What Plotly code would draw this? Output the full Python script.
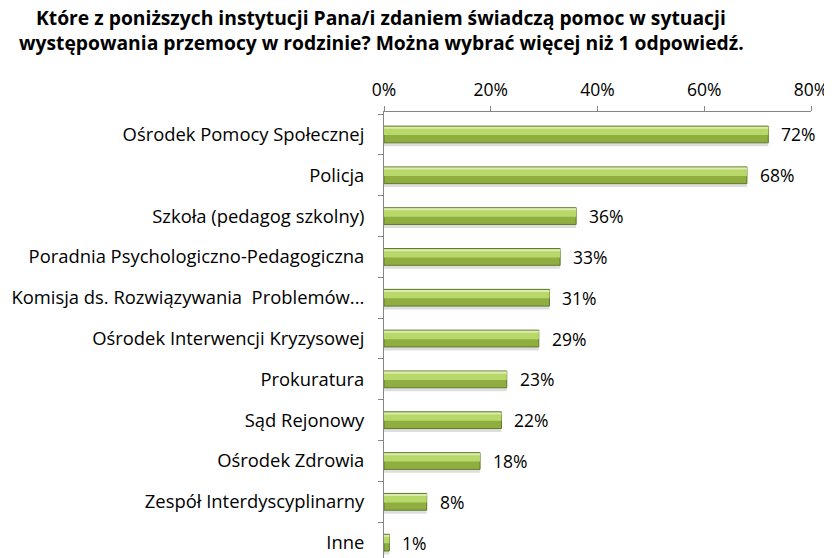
import plotly.graph_objects as go

categories = [
    "Ośrodek Pomocy Społecznej",
    "Policja",
    "Szkoła (pedagog szkolny)",
    "Poradnia Psychologiczno-Pedagogiczna",
    "Komisja ds. Rozwiązywania  Problemów...",
    "Ośrodek Interwencji Kryzysowej",
    "Prokuratura",
    "Sąd Rejonowy",
    "Ośrodek Zdrowia",
    "Zespół Interdyscyplinarny",
    "Inne",
]
values = [72, 68, 36, 33, 31, 29, 23, 22, 18, 8, 1]
x_ticks = [0, 20, 40, 60, 80]
x_tick_labels = ["0%", "20%", "40%", "60%", "80%"]
title_lines = [
    "Które z poniższych instytucji Pana/i zdaniem świadczą pomoc w sytuacji",
    "występowania przemocy w rodzinie? Można wybrać więcej niż 1 odpowiedź.",
]

FONT = "Open Sans"

fig = go.Figure()
# soft shadow
fig.add_trace(go.Bar(
    y=categories, x=values, orientation="h",
    width=0.45, offset=-0.16,
    marker=dict(color="#dedede", line=dict(width=0)),
    hoverinfo="skip",
))
# main bar
fig.add_trace(go.Bar(
    y=categories, x=values, orientation="h",
    width=0.41, offset=-0.205,
    marker=dict(color="#8fae3f", line=dict(color="#5f7a2c", width=1)),
    hoverinfo="skip",
))
# highlight
fig.add_trace(go.Bar(
    y=categories, x=values, orientation="h",
    width=0.2, offset=-0.185,
    marker=dict(color="#b9d86a", line=dict(width=0)),
    hoverinfo="skip",
))
# top light edge
fig.add_trace(go.Bar(
    y=categories, x=values, orientation="h",
    width=0.05, offset=-0.19,
    marker=dict(color="#dcebb0", line=dict(width=0)),
    hoverinfo="skip",
))

annotations = []
for c, v in zip(categories, values):
    annotations.append(dict(
        x=v, y=c, xref="x", yref="y", text=f"{v}%", showarrow=False,
        xanchor="left", yanchor="middle", xshift=11,
        font=dict(family=FONT, size=17.5, color="#000000"),
    ))
for yy, line in zip([1.2105, 1.1537], title_lines):
    annotations.append(dict(
        x=-0.007, y=yy, xref="paper", yref="paper", text=line,
        showarrow=False, xanchor="center", yanchor="middle",
        font=dict(family=FONT, size=19.3, color="#000000", weight="bold"),
    ))

fig.update_layout(
    width=832, height=558,
    margin=dict(l=376, r=29, t=104, b=5),
    paper_bgcolor="white", plot_bgcolor="white",
    showlegend=False,
    barmode="overlay",
    annotations=annotations,
    xaxis=dict(
        side="top", range=[0, 80], tickvals=x_ticks, ticktext=x_tick_labels,
        showgrid=False, zeroline=False,
        showline=True, linecolor="#868686", linewidth=1,
        ticks="outside", ticklen=5, tickcolor="#868686",
        tickfont=dict(family=FONT, size=17.5, color="#000000"),
        ticklabelstandoff=3,
        automargin=False, fixedrange=True,
    ),
    yaxis=dict(
        range=[10.45, -0.55],
        showgrid=False, zeroline=False,
        showline=True, linecolor="#868686", linewidth=1,
        ticks="outside", ticklen=5, tickcolor="#868686", tickson="boundaries",
        tickfont=dict(family=FONT, size=18.4, color="#000000"),
        ticklabelstandoff=15,
        automargin=False, fixedrange=True,
    ),
)

fig.write_html("out.html")
